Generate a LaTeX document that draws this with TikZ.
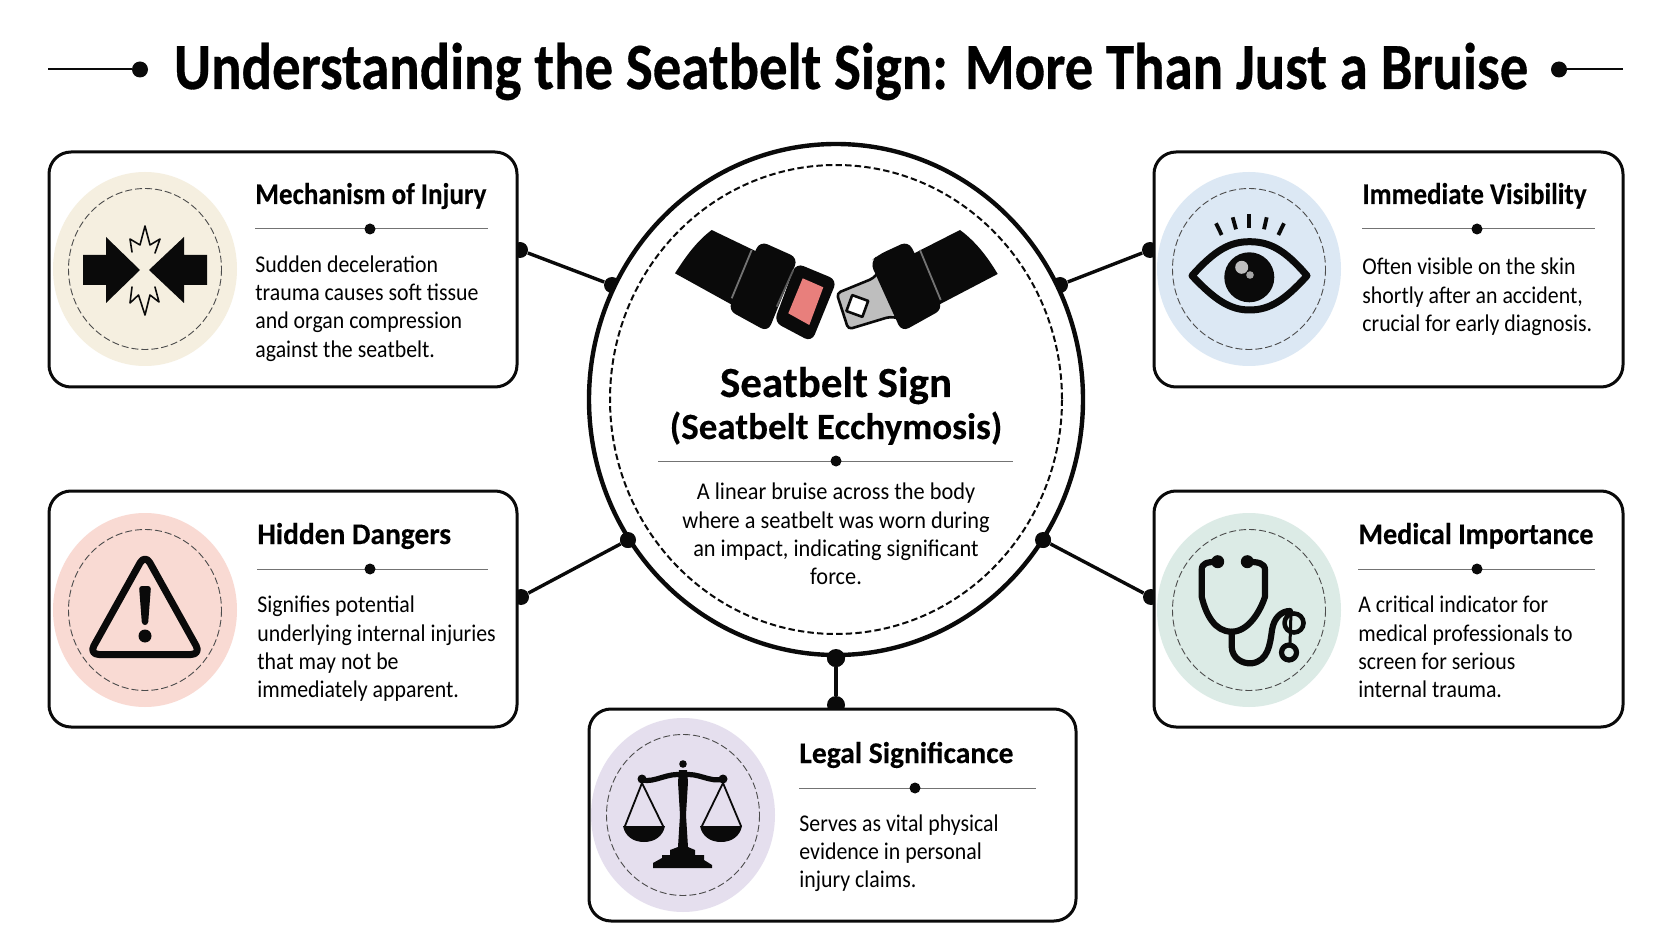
\documentclass[tikz,border=0pt]{standalone}
\usepackage{fontspec}
\setmainfont{Carlito}
\newfontfamily\titlefont[FakeStretch=.86,FakeBold=.5]{Carlito Bold}
\newfontfamily\headfont[FakeBold=.3]{Carlito Bold}
\newfontfamily\bodyfont[FakeStretch=.91]{Carlito}
\newfontfamily\hubfont[FakeStretch=.93]{Carlito}
\usetikzlibrary{shapes.geometric}

\tikzset{
  card/.style={draw=inkline,fill=white,line width=1.5pt,rounded corners=11pt,minimum width=#1,inner sep=0pt},
  hubring/.style={ellipse,draw=inkline,fill=white,line width=2.2pt,minimum width=247pt,minimum height=255.5pt,inner sep=0pt},
  heading/.style={anchor=base west,inner sep=0pt,font=\fontsize{15}{18}\headfont},
  body/.style={anchor=north west,inner sep=0pt,align=left,font=\fontsize{12}{14.15}\bodyfont},
  hubbody/.style={anchor=north,inner sep=0pt,align=center,font=\fontsize{12}{14.15}\hubfont},
  pin/.style={circle,fill=inkline,inner sep=0pt,minimum size=8pt},
  link/.style={line width=1.7pt,draw=inkline},
  rule/.style={line width=.5pt,draw=black!55},
  halo/.style={line width=.45pt,draw=black!70,dash pattern=on 3.5pt off 1.5pt},
  icon/.style={line width=#1,draw=inkline,line join=round,line cap=round},
}
\definecolor{inkline}{HTML}{0A0A0A}
\definecolor{tintbeige}{HTML}{F5EFE0}
\definecolor{tintblue}{HTML}{DCE8F4}
\definecolor{tintrose}{HTML}{F9DAD3}
\definecolor{tintmint}{HTML}{DCEBE6}
\definecolor{tintlilac}{HTML}{E5DFEE}
\definecolor{latchred}{HTML}{E87F7C}
\definecolor{tongue}{HTML}{BEBEBE}

\begin{document}
\begin{tikzpicture}[x=.5pt,y=-.5pt]
\useasboundingbox (0,0) rectangle (1672,941);

% title
\node[anchor=base,inner sep=0pt,font=\fontsize{33}{40}\titlefont] (title) at (851,89) {Understanding the Seatbelt Sign: More Than Just a Bruise};
\node[pin] (tl) at (140,69.5) {};
\node[pin] (tr) at (1559,69.5) {};
\coordinate (tlend) at (48,69.5);
\coordinate (trend) at (1623,69.5);
\draw[link,line width=1pt] (tlend)--(tl);
\draw[link,line width=1pt] (tr)--(trend);

% pins and links under the boxes
\node[pin] (pa) at (520,250) {};
\node[pin] (pb) at (1150,250) {};
\node[pin] (pc) at (521,597) {};
\node[pin] (pd) at (1151,597) {};
\node[pin,minimum size=9pt] (pe) at (836,705) {};
\node[pin] (qa) at (612,285) {};
\node[pin] (qb) at (1060,285) {};
\node[pin] (qc) at (628,540) {};
\node[pin] (qd) at (1043,540) {};
\node[pin,minimum size=9pt] (qe) at (836,658) {};
\draw[link] (pa)--(qa);
\draw[link] (pb)--(qb);
\draw[link] (pc)--(qc);
\draw[link] (pd)--(qd);
\draw[link] (pe)--(qe);

% boxes
\node[card=234pt,minimum height=117.5pt] (mech) at (283,269.5) {};
\node[card=234.5pt,minimum height=117.5pt] (vis) at (1388.5,269.5) {};
\node[card=234pt,minimum height=118pt] (danger) at (283,609) {};
\node[card=234.5pt,minimum height=118pt] (med) at (1388.5,609) {};
\node[card=243.5pt,minimum height=106pt] (legal) at (832.5,815) {};
\node[hubring] (hub) at (836,399.5) {};
\draw[line width=1pt,draw=inkline,dash pattern=on 3.2pt off 1.6pt] (hub.center) ellipse (226 and 234.5);
\node[pin] at (qc) {};
\node[pin] at (qd) {};
\node[pin,minimum size=9pt] at (qe) {};

\foreach \cx/\cy/\tint in {145/269/tintbeige,1249/269/tintblue,145/610/tintrose,1249/610/tintmint,683/815/tintlilac}{
  \fill[\tint] (\cx,\cy) ellipse (92 and 97);
  \draw[halo] (\cx,\cy) ellipse (76.5 and 80.5);
}

% texts
\node[heading] (h1) at (255,204) {\scalebox{.9}[1]{Mechanism of Injury}};
\node[heading] (h2) at (1362,204) {\scalebox{.9}[1]{Immediate Visibility}};
\node[heading] (h3) at (257,544) {\scalebox{.98}[1]{Hidden Dangers}};
\node[heading] (h4) at (1358,544) {\scalebox{.94}[1]{Medical Importance}};
\node[heading] (h5) at (799,763) {\scalebox{.985}[1]{Legal Significance}};
\node[body] (t1) at (255,252) {\strut Sudden deceleration\\trauma causes soft tissue\\and organ compression\\against the seatbelt.};
\node[body] (t2) at (1362,254.5) {\strut Often visible on the skin\\shortly after an accident,\\crucial for early diagnosis.};
\node[body] (t3) at (257,592.5) {\strut Signifies potential\\underlying internal injuries\\that may not be\\immediately apparent.};
\node[body] (t4) at (1358,592.5) {\strut A critical indicator for\\medical professionals to\\screen for serious\\internal trauma.};
\node[body] (t5) at (799,811) {\strut Serves as vital physical\\evidence in personal\\injury claims.};

\node[anchor=base,inner sep=0pt,font=\fontsize{21.5}{26}\headfont] (hubtitle) at (836,397) {Seatbelt Sign};
\node[anchor=base,inner sep=0pt,font=\fontsize{18.5}{22}\headfont] (hubsub) at (836,439) {(Seatbelt Ecchymosis)};
\node[hubbody] (hubtext) at (836,479.5) {\strut A linear bruise across the body\\where a seatbelt was worn during\\an impact, indicating significant\\force.};

% rules
\coordinate (r1a) at (255,229); \coordinate (r1b) at (488,229);
\coordinate (r2a) at (1362,229); \coordinate (r2b) at (1595,229);
\coordinate (r3a) at (257,569); \coordinate (r3b) at (488,569);
\coordinate (r4a) at (1358,569); \coordinate (r4b) at (1595,569);
\coordinate (r5a) at (799,788); \coordinate (r5b) at (1036,788);
\coordinate (r6a) at (658,461); \coordinate (r6b) at (1013,461);
\foreach \a/\b in {r1a/r1b,r2a/r2b,r3a/r3b,r4a/r4b,r5a/r5b,r6a/r6b}
\draw[rule] (\a)--(\b);
\foreach \px/\py in {370/229,1477/229,370/569,1477/569,915/788,836/461}
\fill[inkline] (\px,\py) circle (5.5);

% impact icon
\fill[inkline] (83,255)--(106,255)--(106,237)--(140,270)--(106,303)--(106,285)--(83,285)--cycle;
\fill[inkline] (207,255)--(184,255)--(184,237)--(149,270)--(184,303)--(184,285)--(207,285)--cycle;
\draw[icon=.8pt,fill=tintbeige] (132,252)--(130,239)--(140,245)--(145,226)--(150,245)--(160,239)--(155,253);
\draw[icon=.8pt,fill=tintbeige] (132,287)--(130,303)--(138.5,295)--(145,315)--(150,295)--(159,302)--(155,287);

% eye icon
\draw[icon=3.5pt] (1192,275.7) .. controls (1215,250) and (1230,241.7) .. (1249.5,241.7) .. controls (1270,241.7) and (1285,250) .. (1307,275.7) .. controls (1285,300) and (1270,310) .. (1249.5,310) .. controls (1230,310) and (1215,300) .. (1192,275.7) -- cycle;
\fill[inkline] (1249.3,277.3) circle (25);
\fill[black!25] (1241.7,267.3) circle (6.5);
\fill[black!35] (1250,275) circle (3.8);
\foreach \xa/\ya/\xb/\yb in {1216/223.3/1221.7/235,1232.7/217.3/1236/229.3,1249.3/214/1249.3/228.3,1266.7/217.3/1264/229.3,1284/223.3/1278.3/235}
\draw[icon=1.9pt,line cap=butt] (\xa,\ya)--(\xb,\yb);

% warning icon
\draw[icon=3.5pt,rounded corners=5pt] (145,554)--(201,654.5)--(89,654.5)--cycle;
\fill[inkline,rounded corners=1.5pt] (139,586)--(151,586)--(148,625)--(142,625)--cycle;
\fill[inkline] (145,636) circle (6.5);

% stethoscope icon
\fill[inkline] (1217.7,561.7) circle (6.5);
\fill[inkline] (1247.3,561.7) circle (6.5);
\draw[icon=3.1pt] (1217.7,561.7) .. controls (1207,562) and (1201.7,563) .. (1201.7,570)--(1201.7,596.7) .. controls (1206,615) and (1215,631.7) .. (1231.7,631.7) .. controls (1248,631.7) and (1260,612) .. (1265,596.7)--(1265,570) .. controls (1265,563) and (1258,562) .. (1247.3,561.7);
\draw[icon=3.1pt] (1231.7,631.7)--(1231.7,646.7) .. controls (1232,658) and (1242,664) .. (1251.7,663.3) .. controls (1268,661) and (1270,645) .. (1272,630) .. controls (1274,617) and (1282,611) .. (1290,611);
\draw[icon=2.3pt] (1294,623) circle (9.5);
\draw[icon=2.6pt] (1289,652.5) circle (7.5);
\draw[icon=1.5pt] (1291,612)--(1290,644);

% scales icon
\fill[inkline] (683,764) circle (3.8);
\fill[inkline] (679,770)--(687,770)--(688,782)--(686,815)--(688,847)--(678,847)--(680,815)--(678,782)--cycle;
\draw[icon=2.6pt] (642,780) .. controls (655,783) and (668,772) .. (683,775) .. controls (698,772) and (710,783) .. (723,779);
\fill[inkline] (642,779) circle (4.5);
\fill[inkline] (723,779) circle (4.5);
\draw[icon=.9pt] (625,826)--(642,783)--(663,826);
\draw[icon=.9pt] (702,826)--(723,783)--(741,826);
\fill[inkline] (623,826)--(665,826) .. controls (663,836) and (655,842) .. (644,842) .. controls (633,842) and (625,836) .. (623,826)--cycle;
\fill[inkline] (700,826)--(742,826) .. controls (740,836) and (732,842) .. (721,842) .. controls (710,842) and (702,836) .. (700,826)--cycle;
\fill[inkline] (653,868)--(653,863)--(662,858)--(662,855)--(670,855)--(670,850)--(678,847)--(688,847)--(695,850)--(695,855)--(704,855)--(704,860)--(712,865)--(712,868)--cycle;

% belt
\fill[inkline] (711.7,230)--(770,258)--(745,312)--(675,273.3) .. controls (686,256) and (697,241) .. (711.7,230)--cycle;
\fill[inkline] (960,230)--(905,258)--(925,312)--(997.7,274) .. controls (987,256) and (975,241) .. (960,230)--cycle;
\draw[icon=1.3pt,fill=tongue,rounded corners=2pt] (836.7,293.3)--(873.3,278.3)--(882,268)--(903,319)--(890,316.7)--(848.3,329.3)--cycle;
\draw[icon=1.3pt,fill=white,rotate around={-20:(857.3,306)}] (848.8,297.5) rectangle (865.8,314.5);
\fill[inkline,rounded corners=4pt] (760,241)--(798,258)--(768,332)--(728,310)--cycle;
\fill[inkline,rounded corners=4pt] (796,263)--(837,280)--(811.7,342)--(774,322)--cycle;
\fill[latchred] (802.7,278.3)--(823.3,287.3)--(809.3,325)--(788.3,313.3)--cycle;
\fill[inkline,rounded corners=4pt] (908.3,241)--(943,309)--(901.7,332)--(870,262)--(878,255)--cycle;
\foreach \xa/\ya/\xb/\yb/\shade in {751.7/250/731.7/298.3/55,793.3/270/776.7/306.7/65,920/250/940.7/300/55}
\draw[icon=.9pt,draw=black!\shade,line cap=butt] (\xa,\ya)--(\xb,\yb);
\end{tikzpicture}
\end{document}
